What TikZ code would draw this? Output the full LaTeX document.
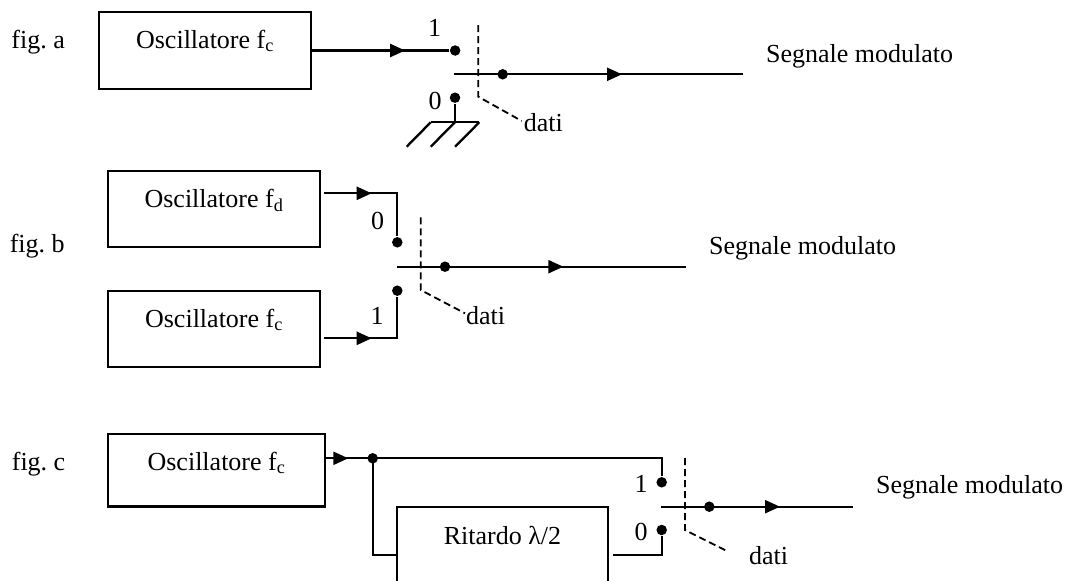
\documentclass[tikz,border=0pt]{standalone}
\usepackage{fontspec}
\setmainfont{Liberation Serif}
\usetikzlibrary{arrows.meta,decorations.markings,calc}
\begin{document}
\frenchspacing
\begin{tikzpicture}[x=1pt,y=-1pt,line width=2.3pt,
  font=\fontsize{26pt}{30pt}\selectfont,
  box/.style={draw,rectangle,inner xsep=0pt,inner ysep=0pt,text height=36pt,text depth=#1,anchor=north},
  box/.default=41pt,
  dotn/.style={circle,fill,draw=none,inner sep=0pt,minimum size=10.5pt},
  lbl/.style={inner sep=0pt,anchor=base west},
  dig/.style={inner sep=0pt},
  dashln/.style={line width=1.8pt,dash pattern=on 7pt off 4pt},
  arr/.style={postaction={decorate,decoration={markings,mark=at position #1 with {\arrow{Triangle[length=15pt,width=13pt]}}}}}
]
\useasboundingbox (0,0) rectangle (1074,581);
\clip (0,0) rectangle (1074,581);

% ---------- fig. a ----------
\node[lbl] (fa) at (10.3,48) {fig. a};
\node[box,minimum width=212pt] (a) at (205,10.85) {Oscillatore f\textsubscript{c}};
\path (a.east) ++(143,0) node[dotn] (a1) {};
\node[dotn] (a0) at (455,97.7) {};
\node[dotn] (am) at (502.7,74.3) {};
\coordinate (ain) at (454,74.3);
\coordinate (aout) at (743,74.3);
\node[dig] (la1) at (434.7,28.3) {1};
\node[dig] (la0) at (435,100.7) {0};
\coordinate (ad1) at (478.3,25);
\coordinate (ad2) at (478.3,96.7);
\coordinate (ad3) at (521.7,121);
\node[lbl] (adati) at (522.7,131) {dati};
\node[lbl] (aseg) at (765,62) {Segnale modulato};
\draw[arr=93pt] (a.east) -- (a1);
\draw[arr=168pt] (ain) -- (aout);
\draw[dashln] (ad1) -- (ad2) -- (ad3);
\coordinate (g0) at (455,122.3);
\coordinate (gl) at (430.7,122.3);
\coordinate (gr) at (479.3,122.3);
\coordinate (h1) at (406.7,146.7);
\coordinate (h2) at (430.7,146.7);
\coordinate (h3) at (455,146.7);
\draw (a0) -- (g0);
\draw (gl) -- (gr);
\draw (gl) -- (h1);
\draw (g0) -- (h2);
\draw (gr) -- (h3);

% ---------- fig. b ----------
\node[lbl] (fb) at (8.6,252) {fig. b};
\node[box=40pt,minimum width=212pt] (b1) at (214,170) {Oscillatore f\textsubscript{d}};
\node[box=40pt,minimum width=212pt] (b2) at (214,290) {Oscillatore f\textsubscript{c}};
\node[dotn] (bd0) at (397.3,242.3) {};
\node[dotn] (bd1) at (397.3,290.7) {};
\node[dotn] (bm) at (445,266.7) {};
\coordinate (b1o) at (324,193.3);
\coordinate (b2o) at (324,338.3);
\coordinate (bin) at (396.7,266.7);
\coordinate (bout) at (686,266.7);
\node[dig] (lb0) at (377.5,220.5) {0};
\node[dig] (lb1) at (377,316) {1};
\coordinate (bdl1) at (420.7,217.3);
\coordinate (bdl2) at (420.7,290);
\coordinate (bdl3) at (465,313.3);
\node[lbl] (bdati) at (465,324) {dati};
\node[lbl] (bseg) at (708,254) {Segnale modulato};
\draw[arr=47.7pt] (b1o) -| (bd0);
\draw[arr=47.7pt] (b2o) -| (bd1);
\draw[arr=166.6pt] (bin) -- (bout);
\draw[dashln] (bdl1) -- (bdl2) -- (bdl3);

% ---------- fig. c ----------
\node[lbl] (fc) at (10.7,470.7) {fig. c};
\node[box=36.3pt,minimum width=217pt] (c) at (216.5,433) {Oscillatore f\textsubscript{c}};
\node[box=50pt,minimum width=211pt,text height=37pt] (r) at (502.5,506) {Ritardo λ/2};
\coordinate (cout) at (326,458.3);
\node[dotn] (cj) at (372.7,458.3) {};
\node[dotn] (c1) at (661.7,482.3) {};
\node[dotn] (c0) at (661.7,530) {};
\node[dotn] (cm) at (709.3,506.7) {};
\coordinate (rin) at (397,555);
\coordinate (rout) at (612.7,555);
\coordinate (cin) at (660.7,506.7);
\coordinate (cend) at (853.3,506.7);
\node[dig] (lc1) at (641,484) {1};
\node[dig] (lc0) at (641,532) {0};
\coordinate (cdl1) at (685,458);
\coordinate (cdl2) at (685,530);
\coordinate (cdl3) at (728.3,551.7);
\node[lbl] (cdati) at (748,564) {dati};
\node[lbl] (cseg) at (875,493) {Segnale modulato};
\draw[arr=22.3pt] (cout) -- (cj.center) -| (c1);
\draw (cj.center) |- (rin);
\draw (rout) -| (c0);
\draw[arr=119.3pt] (cin) -- (cend);
\draw[dashln] (cdl1) -- (cdl2) -- (cdl3);
\end{tikzpicture}
\end{document}
